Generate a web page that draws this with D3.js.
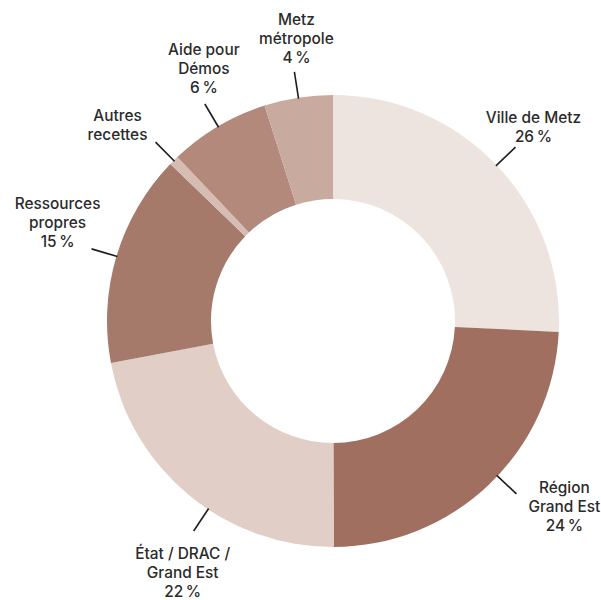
<!DOCTYPE html>
<html>
<head>
<meta charset="utf-8">
<script src="https://cdn.jsdelivr.net/npm/d3@7"></script>
<style>
  body { margin: 0; background: #fff; }
  svg text { font-family: Inter, "Noto Sans", sans-serif; font-weight: 500; font-size: 15.4px; fill: #2b2b2b; }
</style>
</head>
<body>
<div id="chart"></div>
<script>
// slices, clockwise from 12 o'clock
const categories = ["Ville de Metz", "Région Grand Est", "État / DRAC / Grand Est", "Ressources propres", "Autres recettes", "Aide pour Démos", "Metz métropole"];
const shares = [25.8, 24.2, 22.1, 15.2, 0.7, 7.2, 4.9];
const percentLabels = ["26\u202F%", "24\u202F%", "22\u202F%", "15\u202F%", "", "6\u202F%", "4\u202F%"];
const labelLines = [["Ville de Metz"], ["Région", "Grand Est"], ["État / DRAC /", "Grand Est"], ["Ressources", "propres"], ["Autres", "recettes"], ["Aide pour", "Démos"], ["Metz", "métropole"]];
const colors = ["#ede4e0", "#a16f5f", "#e0cec7", "#a57a6b", "#d6bdb4", "#b3897c", "#c9aa9e"];

function draw() {
    var w = 601;
    var h = 600;
    var cx = 333, cy = 321;
    var outerRadius = 226;
    var innerRadius = 122;
    var leaderLen = 26;
    var lineH = 19;

    // leader angle nudge (deg) and text block offset from leader end
    var layout = {
        "Ville de Metz": { nudge: 0, dx: 18, dy: -20 },
        "Région Grand Est": { nudge: -3, dx: 48, dy: 13 },
        "État / DRAC / Grand Est": { nudge: -6, dx: -11, dy: 41 },
        "Ressources propres": { nudge: 0, dx: -34, dy: -26 },
        "Autres recettes": { nudge: 0, dx: -38, dy: -17 },
        "Aide pour Démos": { nudge: 0, dx: -1, dy: -36 },
        "Metz métropole": { nudge: 0, dx: 2, dy: -34 }
    };

    var svg = d3.select("#chart")
        .append("svg")
        .attr("width", w)
        .attr("height", h)
        .append("g")
        .attr("transform", "translate(" + cx + "," + cy + ")");

    var pie = d3.pie().sort(null).value(function(d) { return d; });
    var arc = d3.arc().outerRadius(outerRadius).innerRadius(innerRadius);

    var slices = pie(shares);

    svg.selectAll("path")
        .data(slices)
        .enter()
        .append("path")
        .attr("d", arc)
        .attr("fill", function(d, i) { return colors[i]; });

    slices.forEach(function(d, i) {
        var lay = layout[categories[i]];
        var a = (d.startAngle + d.endAngle) / 2 + lay.nudge * Math.PI / 180;
        var x0 = Math.sin(a) * (outerRadius - 1), y0 = -Math.cos(a) * (outerRadius - 1);
        var x1 = Math.sin(a) * (outerRadius + leaderLen), y1 = -Math.cos(a) * (outerRadius + leaderLen);

        svg.append("line")
            .attr("x1", x0).attr("y1", y0)
            .attr("x2", x1).attr("y2", y1)
            .attr("stroke", "#1e1e1e")
            .attr("stroke-width", 1.6);

        var lines = labelLines[i].slice();
        if (percentLabels[i]) lines.push(percentLabels[i]);
        var bx = x1 + lay.dx, by = y1 + lay.dy;
        var top = by - (lines.length - 1) / 2 * lineH;

        var t = svg.append("text").attr("text-anchor", "middle");
        lines.forEach(function(s, k) {
            t.append("tspan")
                .attr("x", bx)
                .attr("y", top + k * lineH)
                .attr("dy", "0.36em")
                .text(s);
        });
    });
}

window.onload = draw;
</script>
</body>
</html>
